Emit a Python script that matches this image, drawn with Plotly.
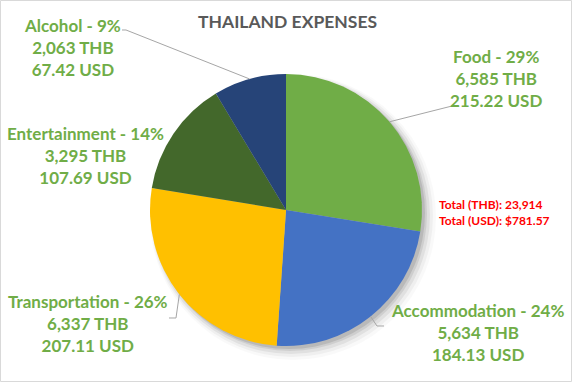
import math
import plotly.graph_objects as go

W, H = 572, 382

# ---- data ----
categories = ["Food", "Accommodation", "Transportation", "Entertainment", "Alcohol"]
thb_values = [6585, 5634, 6337, 3295, 2063]
usd_values = [215.22, 184.13, 207.11, 107.69, 67.42]
pct_labels = ["29%", "24%", "26%", "14%", "9%"]
colors = ["#70AD47", "#4472C4", "#FFC000", "#43682B", "#264478"]
total_thb = "23,914"
total_usd = "$781.57"

# ---- layout geometry (pixels) ----
cx, cy, R = 286, 210, 136
label_pos = {  # label block centres
    "Food": (496, 78),
    "Accommodation": (477, 332),
    "Transportation": (88, 323),
    "Entertainment": (85, 155),
    "Alcohol": (72, 47),
}
leader_tail = {
    "Food": [(452, 106)],
    "Accommodation": [(377, 326), (384, 326)],
    "Transportation": [(176, 318), (169, 318)],
    "Alcohol": [(126, 30), (122, 30)],
}

def px(x):
    return x / W

def py(y):
    return 1 - y / H

fig = go.Figure()
fig.add_trace(go.Pie(
    labels=categories,
    values=thb_values,
    sort=False,
    direction="clockwise",
    rotation=0,
    marker=dict(colors=colors, line=dict(width=0)),
    textinfo="none",
    hoverinfo="label+value+percent",
    showlegend=False,
    domain=dict(x=[px(cx - R), px(cx + R)], y=[py(cy + R), py(cy - R)]),
))

shapes = []
# soft shadow
for off, extra, a in [(7, 7, 0.025), (6, 5, 0.04), (5, 3, 0.06), (4, 1, 0.08), (3, 0, 0.1)]:
    r = R + extra
    ox, oy = cx + off, cy + off
    shapes.append(dict(type="circle", xref="paper", yref="paper",
                       x0=px(ox - r), x1=px(ox + r), y0=py(oy + r), y1=py(oy - r),
                       fillcolor=f"rgba(0,0,0,{a})", line=dict(width=0), layer="below"))

total = sum(thb_values)
cum = 0
for cat, v in zip(categories, thb_values):
    mid = (cum + v / 2) / total * 2 * math.pi
    cum += v
    if cat not in leader_tail:
        continue
    ex = cx + R * math.sin(mid)
    ey = cy - R * math.cos(mid)
    pts = [(ex, ey)] + leader_tail[cat]
    path = "M " + " L ".join(f"{px(x):.5f},{py(y):.5f}" for x, y in pts)
    shapes.append(dict(type="path", xref="paper", yref="paper", path=path,
                       line=dict(color="#A6A6A6", width=1)))

shapes.append(dict(type="rect", xref="paper", yref="paper", x0=px(0.5), x1=px(W - 0.5),
                   y0=py(H - 0.5), y1=py(0.5), line=dict(color="#D9D9D9", width=1)))

annotations = []
for cat, thb, usd, pct in zip(categories, thb_values, usd_values, pct_labels):
    x, y = label_pos[cat]
    txt = f"<b>{cat} - {pct}<br>{thb:,} THB<br>{usd:.2f} USD</b>"
    annotations.append(dict(x=px(x), y=py(y), xref="paper", yref="paper", text=txt,
                            showarrow=False, align="center", xanchor="center", yanchor="middle",
                            font=dict(family="Lato", size=17, color="#70AD47")))

annotations.append(dict(x=px(287), y=py(21), xref="paper", yref="paper",
                        text="<b>THAILAND EXPENSES</b>", showarrow=False,
                        xanchor="center", yanchor="middle",
                        font=dict(family="Lato", size=17.5, color="#595959")))
annotations.append(dict(x=px(437), y=py(212), xref="paper", yref="paper",
                        text=f"<b>Total (THB): {total_thb}<br>Total (USD): {total_usd}</b>",
                        showarrow=False, align="left", xanchor="left", yanchor="middle",
                        font=dict(family="Lato", size=12, color="#FF0000")))

fig.update_layout(
    width=W, height=H,
    margin=dict(l=0, r=0, t=0, b=0),
    paper_bgcolor="white",
    plot_bgcolor="white",
    shapes=shapes,
    annotations=annotations,
)
fig.write_html("out.html")
